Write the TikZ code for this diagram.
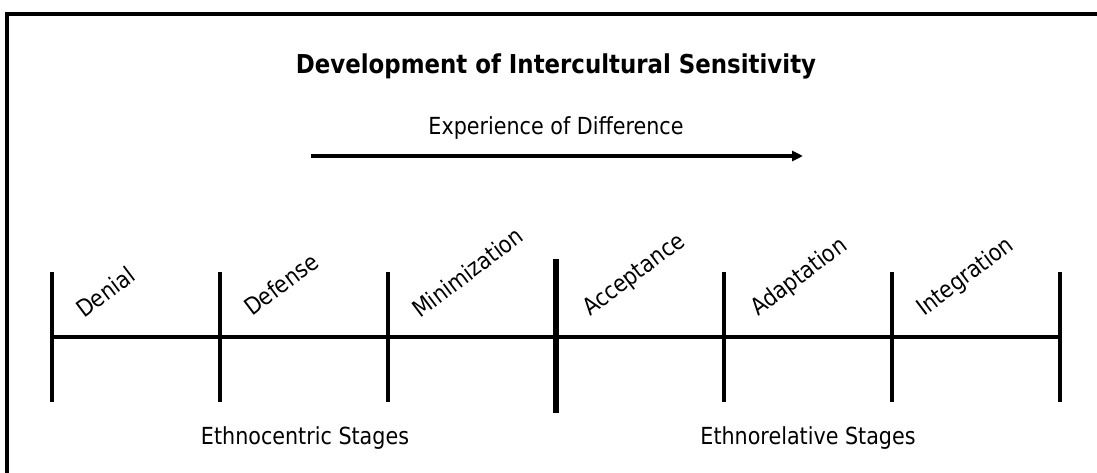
\documentclass[tikz,border=0pt]{standalone}
\usepackage{fontspec}
\setmainfont{DejaVu Sans}[FakeStretch=0.88]
\usetikzlibrary{arrows.meta}
\begin{document}
\begin{tikzpicture}[x=1pt,y=-1pt,
  frame/.style={line width=4pt},
  tick/.style={line width=3.2pt},
  bigtick/.style={line width=5.5pt},
  axis/.style={line width=3.2pt},
  stage/.style={font=\fontsize{23.5}{27}\selectfont, rotate=37, anchor=base west, inner sep=0pt},
  lbl/.style={font=\fontsize{23.5}{28}\selectfont, inner sep=0pt},
  ttl/.style={font=\fontsize{26}{30}\selectfont\bfseries, inner sep=0pt}]
\useasboundingbox (0,0) rectangle (1097,473);
\draw[frame] (7,480) -- (7,14) -- (1100,14);
\node[ttl] (title) at (556,66) {Development of Intercultural Sensitivity};
\node[lbl] (exp) at (556,128) {Experience of Difference};
\coordinate (a1) at (311,156);
\coordinate (a2) at (803,156);
\draw[line width=3.2pt, -{Triangle[length=11pt,width=10pt]}] (a1) -- (a2);
\coordinate (L) at (52,337);
\coordinate (R) at (1060,337);
\draw[axis] (L) -- (R);
\foreach \x in {52,220,388,724,892,1060} \draw[tick] (\x,272) -- (\x,402);
\draw[bigtick] (556,259) -- (556,413);
\node[stage] (s1) at (84,319) {Denial};
\node[stage] (s2) at (252,317) {Defense};
\node[stage] (s3) at (420,319) {Minimization};
\node[stage] (s4) at (590,317) {Acceptance};
\node[stage] (s5) at (758,317) {Adaptation};
\node[stage] (s6) at (924,317) {Integration};
\node[lbl] (ethc) at (305,438) {Ethnocentric Stages};
\node[lbl] (ethr) at (808,438) {Ethnorelative Stages};
\end{tikzpicture}
\end{document}
